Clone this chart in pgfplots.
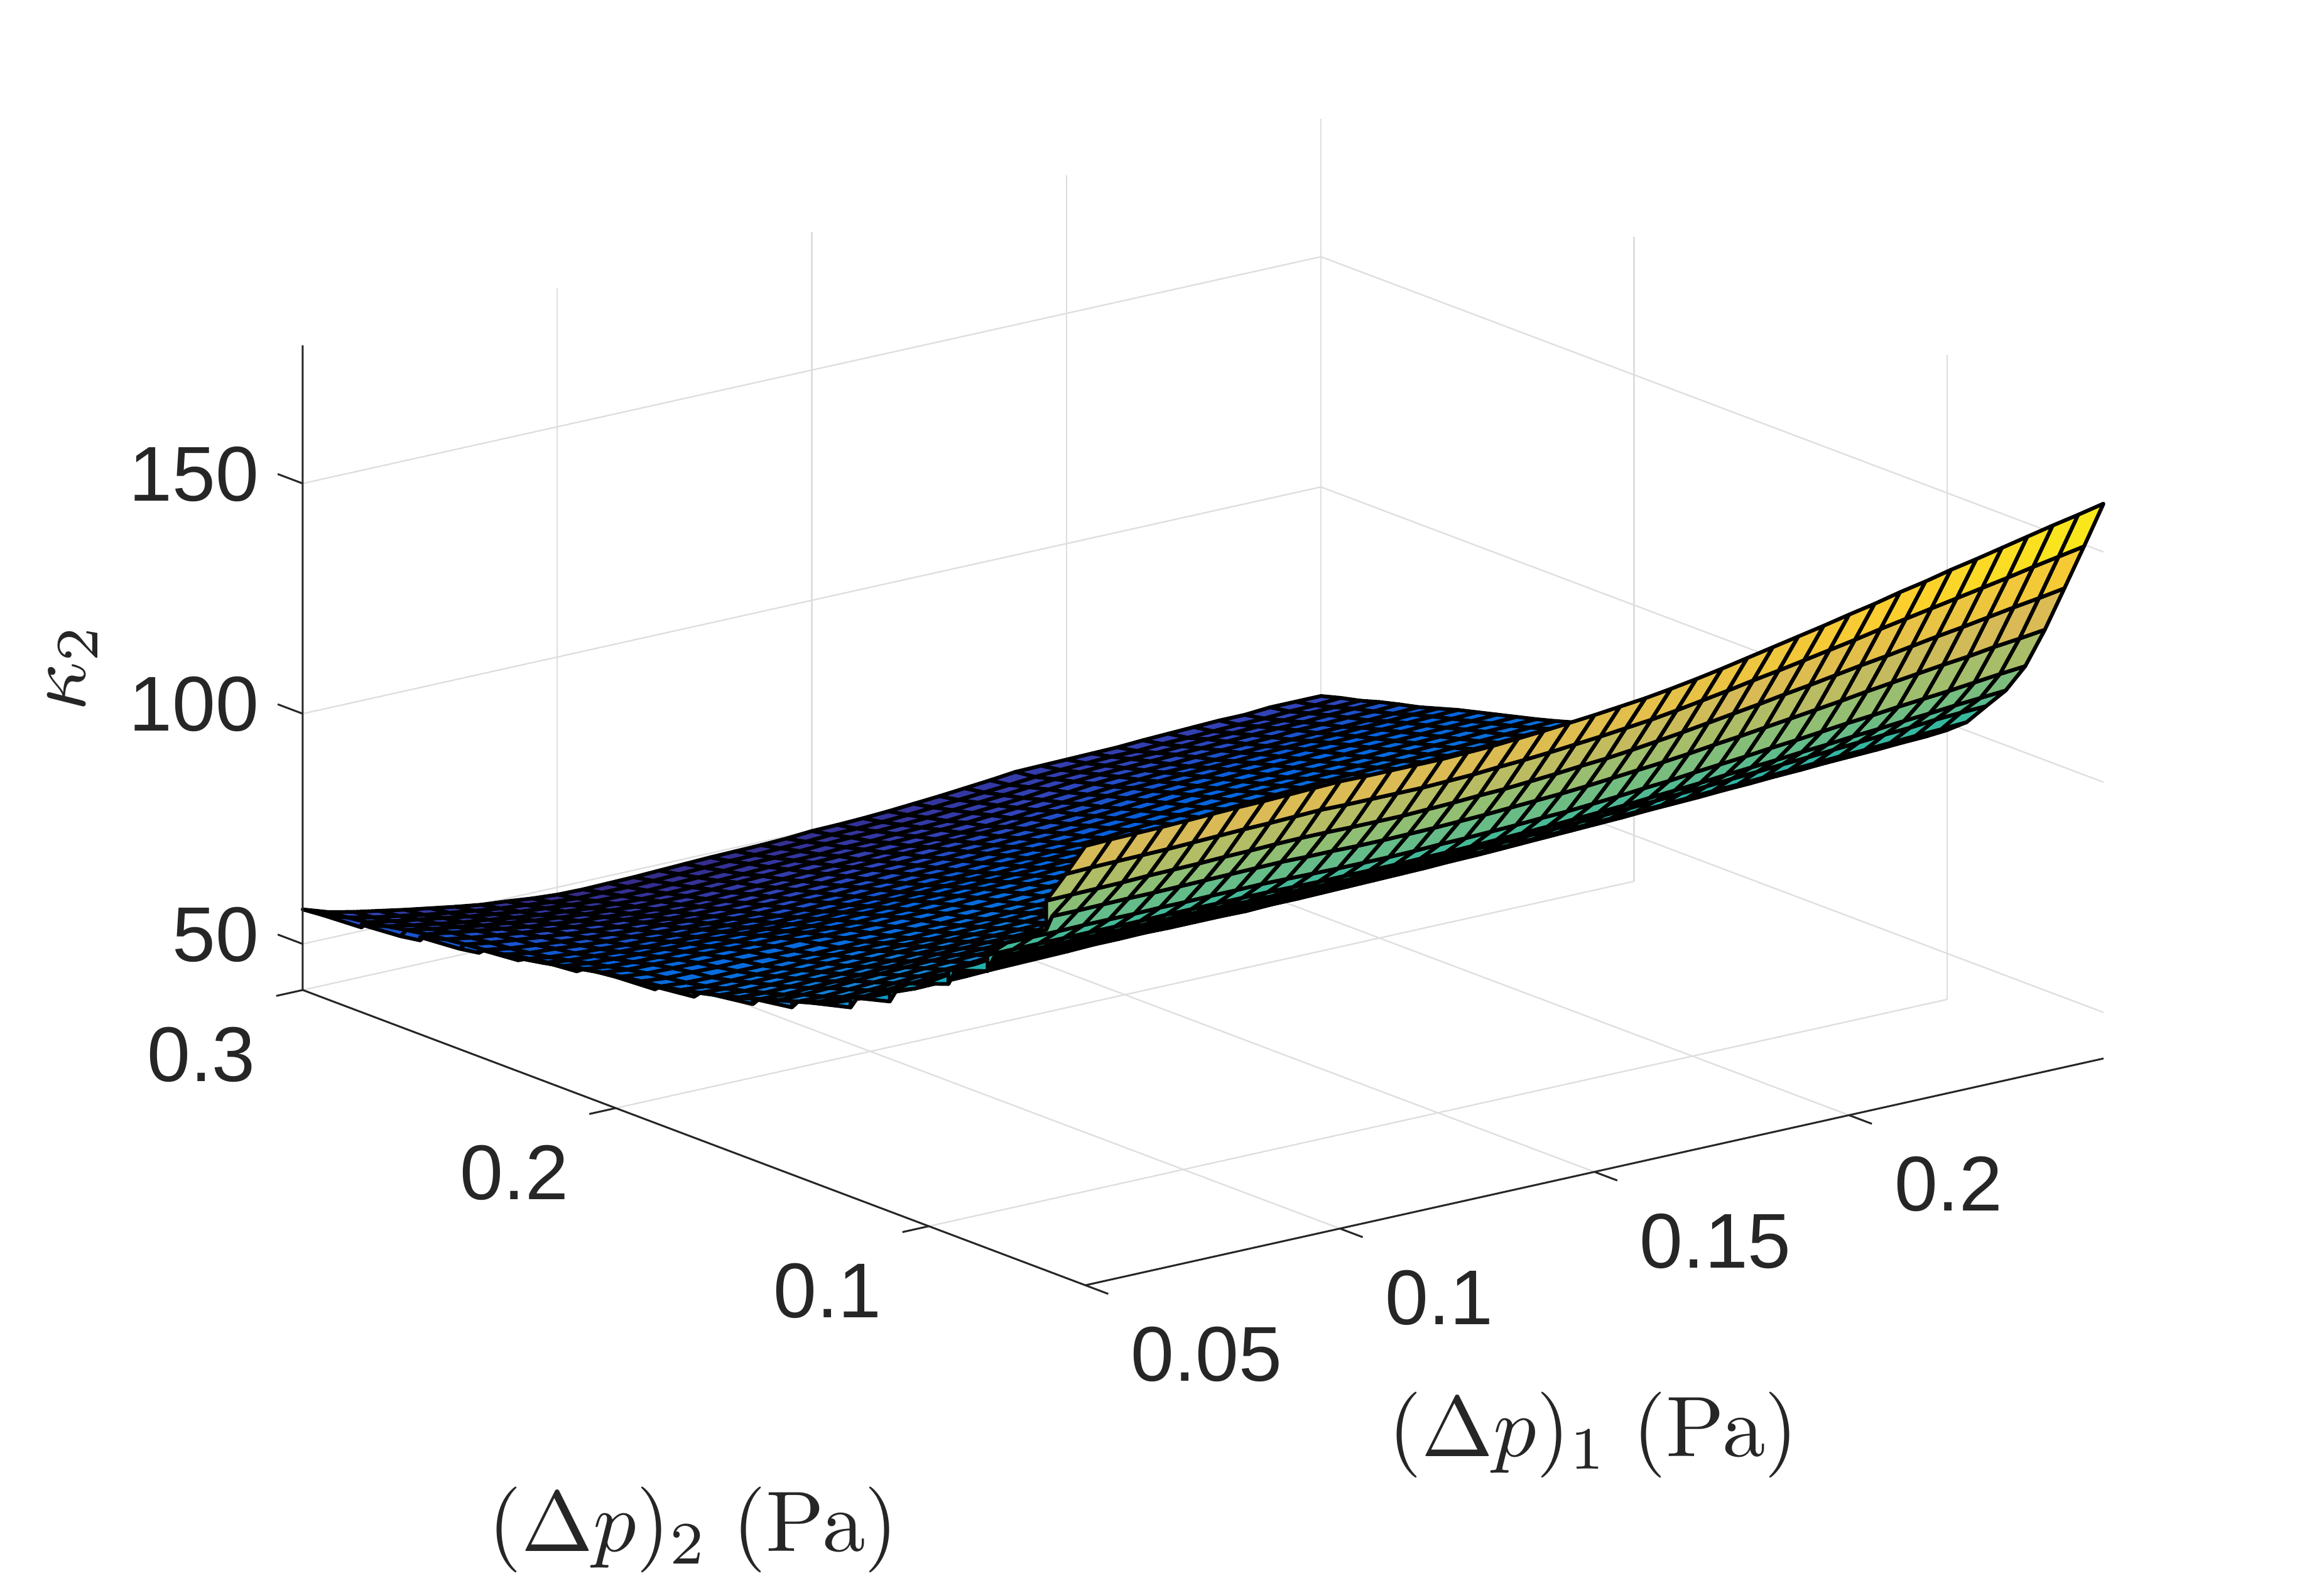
\documentclass[border=0pt]{standalone}
\usepackage[no-math]{fontspec}
\setmainfont{Liberation Sans}
\usepackage{graphicx}
\usepackage{pgfplots}
\pgfplotsset{compat=1.18}
\definecolor{axgray}{rgb}{0.15,0.15,0.15}
\definecolor{gridgray}{rgb}{0.87,0.87,0.87}
\begin{document}
\begin{tikzpicture}[x=1cm,y=1cm]
\useasboundingbox (0cm,0cm) rectangle (37cm,25.19cm);
\begin{axis}[
  at={(17.28cm,4.73cm)}, anchor=origin,
  x={(81.05cm,18.05cm)}, y={(-49.84cm,18.80cm)}, z={(0cm,0.0733cm)},
  xmin=0.05, xmax=0.25, ymin=0.05, ymax=0.3, zmin=40, zmax=180,
  xtick={0.05,0.1,0.15,0.2}, xticklabels={0.05,0.1,0.15,0.2},
  ytick={0.1,0.2,0.3}, yticklabels={0.1,0.2,0.3},
  ztick={50,100,150}, zticklabels={50,100,150},
  scaled ticks=false,
  grid=major,
  grid style={line width=0.65pt,draw=gridgray},
  axis line style={draw=none},
  major tick length=0pt,
  tick label style={font=\fontsize{35.2}{40}\selectfont,text=axgray},
  xticklabel style={anchor=west,xshift=0.6cm,yshift=-1.1cm},
  yticklabel style={anchor=east,xshift=-0.63cm,yshift=-1.03cm},
  zticklabel style={anchor=east,xshift=-0.575cm,yshift=0.15cm},
  colormap={parula}{rgb(0pt)=(0.2081,0.1663,0.5292) rgb(4pt)=(0.1959,0.2645,0.7279) rgb(8pt)=(0.0117,0.3875,0.8820) rgb(16pt)=(0.0793,0.5200,0.8312) rgb(24pt)=(0.0228,0.6535,0.7768) rgb(32pt)=(0.2178,0.7250,0.6193) rgb(40pt)=(0.5709,0.7485,0.4494) rgb(48pt)=(0.8507,0.7299,0.3360) rgb(56pt)=(0.9880,0.8066,0.1794) rgb(64pt)=(0.9763,0.9831,0.0538)},
  clip=false,
  xlabel={\scalebox{3.89}{$(\Delta p)_1\ (\mathrm{Pa})$}},
  ylabel={\scalebox{3.89}{$(\Delta p)_2\ (\mathrm{Pa})$}},
  x label style={at={(axis cs:0.05,0.05,40)},anchor=center,rotate=0,xshift=8.09cm,yshift=-2.38cm,text=axgray},
  y label style={at={(axis cs:0.05,0.05,40)},anchor=center,rotate=0,xshift=-6.24cm,yshift=-3.89cm,text=axgray},
]
\addplot3[surf, shader=faceted, faceted color=black, line width=1.7pt, line join=round,
  z buffer=reverse xy seq, mesh/rows=41, mesh/cols=41]
  table[header=false,
    x expr={0.05+0.005*mod(\coordindex,41)},
    y expr={0.05+0.00625*floor(\coordindex/41)},
    z index=0] {
135.4
135.6
135.7
135.8
136.0
136.2
136.4
136.5
136.7
136.9
137.1
137.0
137.0
137.0
137.0
137.2
137.4
137.8
138.2
138.7
139.2
139.8
140.4
141.2
142.1
143.1
144.2
145.3
146.4
147.5
148.7
149.8
151.1
152.2
153.5
154.6
155.8
157.0
158.2
159.3
160.5
127.7
127.9
128.0
128.1
128.2
128.4
128.6
128.8
128.9
129.1
129.3
129.2
129.2
129.2
129.2
129.4
129.6
130.0
130.3
130.7
131.2
131.7
132.3
132.9
133.7
134.6
135.5
136.5
137.4
138.4
139.4
140.4
141.5
142.5
143.5
144.5
145.5
146.5
147.6
148.6
149.6
120.3
120.4
120.5
120.6
120.8
120.9
121.0
121.2
121.3
121.5
121.6
121.6
121.5
121.5
121.5
121.7
121.9
122.2
122.4
122.8
123.2
123.7
124.1
124.7
125.4
126.1
126.9
127.7
128.5
129.4
130.2
131.1
132.0
132.8
133.7
134.6
135.4
136.3
137.2
138.0
138.9
114.0
114.1
114.1
114.2
114.3
114.3
114.4
114.5
114.6
114.7
114.8
114.7
114.7
114.6
114.6
114.7
114.8
115.0
115.2
115.5
115.8
116.1
116.5
117.0
117.5
118.0
118.6
119.3
119.9
120.6
121.3
122.0
122.7
123.5
124.2
124.9
125.6
126.2
127.0
127.6
128.3
108.0
108.0
108.0
108.1
108.1
108.1
108.2
108.2
108.3
108.3
108.4
108.3
108.2
108.1
108.1
108.1
108.2
108.4
108.5
108.7
108.9
109.2
109.4
109.8
110.2
110.7
111.1
111.7
112.2
112.7
113.3
113.8
114.4
115.0
115.5
116.1
116.6
117.1
117.7
118.3
118.8
103.7
103.7
103.7
103.7
103.7
103.7
103.7
103.8
103.8
103.8
103.8
103.8
103.7
103.6
103.6
103.6
103.6
103.7
103.8
103.9
104.1
104.3
104.5
104.8
105.1
105.4
105.8
106.2
106.6
107.1
107.5
107.9
108.4
108.8
109.3
109.7
110.2
110.6
111.1
111.5
111.9
100.2
100.2
100.2
100.2
100.2
100.2
100.2
100.2
100.3
100.3
100.3
100.2
100.2
100.2
100.1
100.1
100.2
100.2
100.3
100.4
100.6
100.7
100.9
101.1
101.4
101.7
102.0
102.3
102.7
103.0
103.4
103.7
104.1
104.4
104.8
105.2
105.6
105.9
106.4
106.7
106.9
97.2
97.2
97.2
97.2
97.1
97.1
97.1
97.1
97.1
97.0
97.0
97.0
96.9
96.8
96.8
96.7
96.7
96.8
96.8
96.9
97.0
97.1
97.2
97.4
97.6
97.9
98.1
98.3
98.5
98.8
99.1
99.3
99.6
99.9
100.2
100.5
100.7
101.0
101.3
101.5
101.8
94.2
93.9
93.9
93.9
93.9
94.1
94.0
94.2
94.1
94.1
94.2
94.1
94.0
93.9
93.9
93.9
93.9
93.9
94.0
94.1
94.2
94.3
94.4
94.5
94.7
94.9
95.1
95.3
95.6
95.8
96.0
96.3
96.5
96.8
97.0
97.3
97.5
97.7
98.0
98.2
98.5
91.1
90.7
90.6
90.7
90.8
90.9
91.0
91.1
91.2
91.2
91.2
91.2
91.1
91.0
91.0
91.1
91.1
91.1
91.2
91.3
91.4
91.5
91.6
91.7
91.9
92.1
92.3
92.5
92.7
93.0
93.2
93.4
93.7
93.9
94.2
94.4
94.7
94.9
95.1
95.4
95.6
87.8
87.2
87.3
87.4
87.6
87.7
87.8
87.9
88.1
88.1
88.2
88.1
88.1
88.1
88.0
88.2
88.2
88.3
88.4
88.5
88.6
88.7
88.9
89.0
89.2
89.5
89.7
89.9
90.1
90.4
90.6
90.9
91.2
91.4
91.7
92.0
92.2
92.4
92.7
93.0
93.2
85.6
84.9
84.9
85.1
85.2
85.4
85.6
85.7
85.9
85.9
85.9
85.9
85.9
85.9
85.9
85.9
86.0
86.0
86.1
86.2
86.3
86.4
86.5
86.7
86.9
87.1
87.3
87.5
87.7
88.0
88.2
88.4
88.7
88.9
89.2
89.4
89.6
89.9
90.1
90.4
90.6
83.3
82.4
82.4
82.6
82.8
83.1
83.3
83.5
83.6
83.7
83.7
83.7
83.7
83.7
83.7
83.8
83.9
84.0
84.0
84.1
84.2
84.4
84.5
84.6
84.8
85.0
85.2
85.5
85.7
85.9
86.2
86.5
86.7
86.9
87.2
87.4
87.7
87.9
88.2
88.4
88.7
81.1
80.1
80.1
80.4
80.5
80.8
81.0
81.2
81.4
81.4
81.5
81.5
81.5
81.6
81.6
81.7
81.8
81.9
82.0
82.2
82.3
82.5
82.6
82.8
83.1
83.3
83.5
83.8
84.1
84.3
84.6
84.8
85.1
85.4
85.6
85.9
86.2
86.4
86.7
86.9
87.2
78.9
77.8
77.7
78.1
78.3
78.6
78.9
79.1
79.2
79.2
79.3
79.4
79.4
79.5
79.6
79.7
79.9
80.0
80.1
80.3
80.5
80.7
80.9
81.1
81.3
81.6
81.9
82.2
82.5
82.7
83.0
83.3
83.6
83.9
84.2
84.4
84.7
85.0
85.3
85.5
85.8
77.6
76.2
76.1
76.3
76.6
76.9
77.1
77.3
77.7
77.7
77.8
77.9
77.9
78.0
78.1
78.3
78.4
78.6
78.8
78.9
79.1
79.3
79.5
79.7
80.0
80.3
80.5
80.8
81.1
81.4
81.7
82.0
82.2
82.5
82.8
83.1
83.3
83.6
83.9
84.1
84.4
76.3
74.7
74.6
74.9
75.2
75.5
75.8
76.0
76.2
76.2
76.3
76.3
76.4
76.6
76.7
76.8
77.0
77.2
77.4
77.5
77.7
77.9
78.1
78.4
78.6
78.9
79.2
79.5
79.8
80.1
80.4
80.6
80.9
81.2
81.4
81.7
82.0
82.2
82.5
82.7
83.0
75.0
73.4
73.4
73.6
73.9
74.2
74.4
74.6
74.6
74.7
74.7
74.8
74.9
75.1
75.2
75.4
75.6
75.8
76.0
76.2
76.4
76.6
76.9
77.1
77.4
77.7
78.0
78.3
78.7
78.9
79.2
79.5
79.8
80.0
80.3
80.6
80.9
81.1
81.4
81.6
81.9
73.8
72.0
71.8
72.0
72.2
72.4
72.7
72.9
73.2
73.2
73.3
73.3
73.5
73.6
73.8
74.0
74.3
74.5
74.7
74.9
75.1
75.3
75.6
75.8
76.1
76.4
76.8
77.1
77.5
77.8
78.0
78.3
78.6
78.9
79.1
79.4
79.7
79.9
80.2
80.4
80.7
72.6
70.8
70.6
70.7
70.9
71.0
71.3
71.4
71.7
71.7
71.8
71.9
72.0
72.2
72.4
72.7
72.9
73.2
73.4
73.6
73.9
74.1
74.4
74.6
74.9
75.3
75.6
76.0
76.3
76.6
76.9
77.2
77.5
77.7
78.0
78.3
78.6
78.8
79.1
79.3
79.6
71.6
69.7
69.4
69.5
69.6
69.8
69.9
70.1
70.4
70.4
70.5
70.6
70.7
70.9
71.2
71.4
71.7
71.9
72.2
72.4
72.6
72.9
73.2
73.4
73.8
74.1
74.5
74.8
75.2
75.5
75.8
76.1
76.3
76.6
76.9
77.1
77.4
77.6
77.9
78.1
78.4
70.6
68.6
68.3
68.4
68.5
68.6
68.8
68.9
69.1
69.1
69.1
69.2
69.4
69.6
69.9
70.1
70.4
70.7
70.9
71.2
71.5
71.7
72.0
72.2
72.6
73.0
73.3
73.7
74.1
74.4
74.7
75.0
75.3
75.6
75.8
76.1
76.4
76.6
76.7
76.9
77.2
69.6
67.6
67.2
67.2
67.3
67.4
67.6
67.8
67.9
67.9
67.8
68.0
68.1
68.2
68.5
68.8
69.0
69.3
69.5
69.8
70.0
70.3
70.6
70.8
71.2
71.6
71.9
72.3
72.7
73.0
73.3
73.5
73.9
74.1
74.4
74.7
75.0
75.2
75.4
75.7
75.9
69.0
66.8
66.4
66.3
66.4
66.4
66.5
66.5
66.6
66.7
66.7
66.8
66.9
67.1
67.4
67.6
67.9
68.2
68.4
68.7
68.9
69.2
69.4
69.7
70.1
70.4
70.9
71.2
71.6
71.9
72.2
72.5
72.8
73.2
73.4
73.7
73.9
74.2
74.4
74.6
74.7
68.5
66.3
65.8
65.8
65.7
65.8
65.7
65.6
65.8
65.8
65.7
65.8
66.0
66.2
66.3
66.6
66.9
67.1
67.4
67.6
67.8
68.1
68.4
68.6
69.0
69.3
69.7
70.1
70.5
70.7
71.1
71.3
71.6
71.9
72.1
72.4
72.6
72.9
73.1
73.3
73.5
68.0
65.7
65.2
65.1
65.0
65.0
65.0
64.9
65.0
64.8
64.8
64.8
65.0
65.1
65.3
65.6
65.8
66.1
66.3
66.5
66.7
67.0
67.3
67.5
67.9
68.2
68.6
68.9
69.4
69.7
70.0
70.2
70.5
70.7
71.0
71.2
71.5
71.6
71.9
72.1
72.3
67.3
65.0
64.4
64.3
64.1
64.1
64.0
63.9
63.9
63.8
63.6
63.6
63.8
63.9
64.2
64.4
64.7
64.9
65.1
65.4
65.6
65.9
66.1
66.3
66.7
67.0
67.4
67.8
68.2
68.4
68.8
69.1
69.3
69.5
69.8
70.0
70.2
70.4
70.6
70.9
71.1
66.5
64.1
63.5
63.2
63.1
63.0
62.9
62.8
62.8
62.5
62.4
62.5
62.6
62.7
63.0
63.1
63.4
63.6
63.8
64.0
64.2
64.6
64.8
65.0
65.3
65.7
66.1
66.5
66.9
67.1
67.5
67.7
68.0
68.2
68.4
68.6
68.8
69.0
69.3
69.5
69.7
65.7
63.2
62.6
62.3
62.1
62.0
61.9
61.7
61.6
61.4
61.2
61.1
61.3
61.4
61.6
61.8
62.1
62.3
62.4
62.7
63.0
63.2
63.4
63.6
64.0
64.4
64.7
65.2
65.6
65.9
66.2
66.5
66.7
66.9
67.1
67.3
67.5
67.7
67.9
68.2
68.4
64.9
62.3
61.6
61.3
61.0
60.8
60.7
60.5
60.4
60.1
59.9
59.9
59.9
60.1
60.3
60.4
60.7
60.9
61.1
61.5
61.6
61.9
62.1
62.3
62.8
63.2
63.6
64.0
64.4
64.8
65.0
65.3
65.5
65.7
65.9
66.2
66.4
66.6
66.9
67.0
67.2
64.1
61.5
60.7
60.3
60.0
59.7
59.6
59.4
59.3
59.0
58.8
58.6
58.7
58.9
59.1
59.3
59.5
59.8
59.9
60.2
60.6
60.7
60.9
61.1
61.6
62.0
62.4
62.9
63.4
63.6
63.9
64.0
64.4
64.6
64.8
65.1
65.3
65.5
65.8
65.9
66.1
63.3
60.9
60.0
59.7
59.2
58.8
58.6
58.3
58.1
57.8
57.6
57.5
57.6
57.8
57.9
58.2
58.3
58.6
58.8
59.1
59.4
59.6
59.8
60.1
60.5
60.9
61.4
61.8
62.3
62.5
62.8
63.0
63.3
63.5
63.7
64.0
64.2
64.4
64.6
64.8
65.0
62.5
60.3
59.4
58.9
58.4
58.0
57.6
57.3
57.1
56.8
56.5
56.4
56.5
56.6
56.8
57.0
57.2
57.5
57.7
58.0
58.2
58.4
58.7
58.9
59.3
59.8
60.2
60.7
61.2
61.4
61.7
62.0
62.2
62.4
62.7
62.9
63.1
63.3
63.5
63.7
63.9
61.8
59.9
59.0
58.4
57.8
57.2
56.7
56.3
56.0
55.6
55.4
55.3
55.3
55.5
55.7
55.9
56.2
56.4
56.6
56.8
57.1
57.3
57.5
57.9
58.2
58.6
59.0
59.6
60.0
60.4
60.6
60.9
61.1
61.3
61.6
61.8
62.0
62.2
62.4
62.6
62.8
61.1
59.4
58.5
57.8
57.1
56.5
55.9
55.4
55.0
54.6
54.3
54.2
54.2
54.4
54.6
54.8
55.1
55.3
55.5
55.8
56.0
56.2
56.5
56.7
57.2
57.6
58.0
58.5
59.0
59.2
59.5
59.7
59.9
60.2
60.4
60.6
60.8
61.0
61.2
61.4
61.5
60.4
58.9
58.0
57.2
56.4
55.6
55.0
54.4
54.0
53.5
53.2
53.0
53.0
53.2
53.4
53.6
53.9
54.1
54.2
54.5
54.7
54.9
55.1
55.3
55.8
56.3
56.7
57.2
57.7
58.0
58.3
58.4
58.6
58.9
59.1
59.3
59.5
59.6
59.8
60.0
60.2
59.7
58.2
57.2
56.4
55.5
54.8
54.1
53.5
53.0
52.6
52.2
52.1
52.0
52.2
52.5
52.7
52.9
53.1
53.3
53.5
53.7
53.9
54.1
54.4
54.8
55.2
55.7
56.1
56.7
57.0
57.2
57.3
57.6
57.8
58.0
58.2
58.5
58.6
58.8
58.9
59.2
59.0
57.4
56.4
55.5
54.6
53.9
53.1
52.5
52.0
51.5
51.2
51.0
51.0
51.1
51.3
51.5
51.8
52.0
52.1
52.4
52.5
52.8
53.0
53.2
53.7
54.1
54.5
55.1
55.6
55.9
56.1
56.3
56.5
56.7
56.9
57.1
57.3
57.4
57.7
57.9
58.1
58.4
56.7
55.7
54.8
53.9
53.0
52.3
51.6
51.1
50.6
50.2
50.1
50.0
50.2
50.4
50.6
50.9
51.0
51.2
51.5
51.7
51.8
52.0
52.3
52.7
53.1
53.5
54.0
54.5
54.8
55.0
55.2
55.3
55.5
55.8
55.9
56.1
56.2
56.5
56.6
56.8
57.9
56.1
54.9
54.0
53.0
52.2
51.4
50.7
50.2
49.6
49.2
49.2
49.2
49.3
49.5
49.7
49.9
50.0
50.2
50.4
50.7
50.8
51.0
51.3
51.7
52.1
52.5
52.9
53.4
53.7
53.9
54.1
54.1
54.4
54.5
54.7
54.9
55.0
55.3
55.4
55.8
57.5
55.7
54.5
53.5
52.5
51.6
50.7
49.9
49.4
48.8
48.4
48.3
48.4
48.5
48.7
48.9
49.1
49.2
49.3
49.5
49.9
50.0
50.2
50.5
50.9
51.3
51.8
52.3
52.9
53.0
53.1
53.2
53.3
53.6
53.8
54.0
54.2
54.2
54.6
54.6
54.6
};
\draw[axgray,line width=0.85pt] (axis cs:0.05,0.3,180)--(axis cs:0.05,0.3,40)--(axis cs:0.05,0.05,40)--(axis cs:0.25,0.05,40);
\foreach \v in {0.05,0.1,0.15,0.2} {
  \edef\tmp{\noexpand\draw[axgray,line width=0.85pt] (axis cs:\v,0.05,40)--(axis cs:\v,0.0427,40);}\tmp
}
\foreach \v in {0.1,0.2,0.3} {
  \edef\tmp{\noexpand\draw[axgray,line width=0.85pt] (axis cs:0.05,\v,40)--(axis cs:0.0448,\v,40);}\tmp
}
\foreach \v in {50,100,150} {
  \edef\tmp{\noexpand\draw[axgray,line width=0.85pt] (axis cs:0.05,0.3,\v)--(axis cs:0.05,0.308,\v);}\tmp
}
\node[rotate=90,anchor=center,text=axgray] at ([xshift=-16.12cm,yshift=9.84cm]axis cs:0.05,0.05,40) {\scalebox{3.89}{$\kappa_2$}};
\end{axis}
\end{tikzpicture}
\end{document}
